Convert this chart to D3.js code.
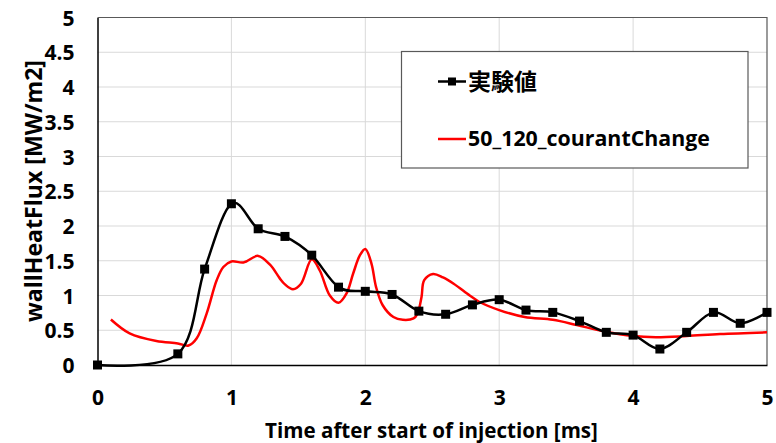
<!DOCTYPE html>
<html>
<head>
<meta charset="utf-8">
<script src="https://cdn.jsdelivr.net/npm/d3@7"></script>
<style>
  html, body { margin: 0; padding: 0; background: #fff; }
  svg { display: block; }
  text { font-family: "Open Sans", Lato, sans-serif; font-weight: bold; fill: #000; }
</style>
</head>
<body>
<svg id="chart" width="776" height="443"></svg>
<script>
// ---- data ----
const expTime = [0, 0.6, 0.8, 1.0, 1.2, 1.4, 1.6, 1.8, 2.0, 2.2, 2.4, 2.6, 2.8, 3.0, 3.2, 3.4, 3.6, 3.8, 4.0, 4.2, 4.4, 4.6, 4.8, 5.0];
const expFlux = [0, 0.16, 1.38, 2.32, 1.96, 1.85, 1.58, 1.12, 1.06, 1.015, 0.775, 0.73, 0.865, 0.94, 0.79, 0.757, 0.632, 0.47, 0.43, 0.23, 0.47, 0.757, 0.6, 0.757];

const simTime = [0.1, 0.24, 0.44, 0.6, 0.68, 0.74, 0.815, 0.89, 0.94, 1.0, 1.09, 1.2, 1.29, 1.36, 1.4, 1.46, 1.52, 1.6, 1.66, 1.735, 1.8, 1.86, 1.91, 1.96, 2.0, 2.046, 2.08, 2.13, 2.21, 2.28, 2.36, 2.39, 2.42, 2.44, 2.506, 2.58, 2.66, 2.78, 2.85, 3.0, 3.19, 3.4, 3.58, 3.77, 4.0, 4.17, 4.4, 4.65, 5.0];
const simFlux = [0.655, 0.455, 0.345, 0.31, 0.28, 0.38, 0.74, 1.22, 1.41, 1.49, 1.475, 1.57, 1.44, 1.25, 1.16, 1.09, 1.17, 1.52, 1.36, 1.0, 0.895, 1.03, 1.32, 1.58, 1.67, 1.46, 1.125, 0.86, 0.69, 0.65, 0.67, 0.74, 0.98, 1.22, 1.31, 1.26, 1.17, 1.0, 0.91, 0.79, 0.69, 0.65, 0.575, 0.49, 0.417, 0.40, 0.417, 0.445, 0.47];

const xTicks = [0, 1, 2, 3, 4, 5];
const yTicks = [0, 0.5, 1, 1.5, 2, 2.5, 3, 3.5, 4, 4.5, 5];
const seriesNames = ["実験値", "50_120_courantChange"];
const xTitle = "Time after start of injection [ms]";
const yTitle = "wallHeatFlux [MW/m2]";

// ---- layout ----
const svg = d3.select("#chart");
const plot = { left: 97.5, right: 767, top: 17.5, bottom: 365 };
const x = d3.scaleLinear().domain([0, 5]).range([plot.left, plot.right]);
const y = d3.scaleLinear().domain([0, 5]).range([plot.bottom, plot.top]);

function fitWidth(sel, target) {
  const node = sel.node();
  const fs = parseFloat(sel.style("font-size"));
  const w = node.getComputedTextLength();
  if (w > 0) sel.style("font-size", (fs * target / w).toFixed(2) + "px");
}

// gridlines
svg.append("g").selectAll("line").data(yTicks.filter(d => d > 0 && d < 5)).join("line")
  .attr("x1", plot.left).attr("x2", plot.right)
  .attr("y1", d => y(d)).attr("y2", d => y(d))
  .attr("stroke", "#d9d9d9").attr("stroke-width", 1);
svg.append("g").selectAll("line").data(xTicks.filter(d => d > 0 && d < 5)).join("line")
  .attr("y1", plot.top).attr("y2", plot.bottom)
  .attr("x1", d => x(d)).attr("x2", d => x(d))
  .attr("stroke", "#d9d9d9").attr("stroke-width", 1);

// plot border (top/right)
svg.append("path")
  .attr("d", `M${plot.left},${plot.top}H${plot.right}V${plot.bottom}`)
  .attr("fill", "none").attr("stroke", "#595959").attr("stroke-width", 1.2);

// axes
const tickFont = "21px";
const xAxis = svg.append("g").attr("transform", `translate(0,${plot.bottom})`)
  .call(d3.axisBottom(x).tickValues(xTicks).tickSize(0).tickPadding(0).tickFormat(d3.format("d")));
xAxis.select(".domain").attr("stroke", "#000").attr("stroke-width", 1.5);
xAxis.selectAll("text").attr("dy", null).attr("y", 40);

const yAxis = svg.append("g").attr("transform", `translate(${plot.left},0)`)
  .call(d3.axisLeft(y).tickValues(yTicks).tickSize(0).tickPadding(0).tickFormat(d => String(d)));
yAxis.select(".domain").attr("stroke", "#000").attr("stroke-width", 1.5);
yAxis.selectAll("text").attr("dy", null).attr("x", -23).attr("y", 7.5)
  .attr("text-anchor", "end");
svg.selectAll(".tick text").attr("font-family", null).attr("font-size", null).style("font-size", tickFont);

// axis titles
const xt = svg.append("text").attr("x", 431.5).attr("y", 438)
  .attr("text-anchor", "middle").style("font-size", "20px").text(xTitle);
fitWidth(xt, 333);
const yt = svg.append("text").attr("transform", `translate(42,191) rotate(-90)`)
  .attr("text-anchor", "middle").style("font-size", "20px").text(yTitle);
fitWidth(yt, 262);

// series
const simData = simTime.map((t, i) => [t, simFlux[i]]);
const expData = expTime.map((t, i) => [t, expFlux[i]]);

svg.append("path").datum(simData)
  .attr("d", d3.line().x(d => x(d[0])).y(d => y(d[1])).curve(d3.curveCatmullRom.alpha(0.5)))
  .attr("fill", "none").attr("stroke", "#ff0000").attr("stroke-width", 2.5)
  .attr("stroke-linejoin", "round");

svg.append("path").datum(expData)
  .attr("d", d3.line().x(d => x(d[0])).y(d => y(d[1])).curve(d3.curveCardinal.tension(0)))
  .attr("fill", "none").attr("stroke", "#000").attr("stroke-width", 2.5)
  .attr("stroke-linejoin", "round");

const ms = 9;
svg.append("g").selectAll("rect").data(expData).join("rect")
  .attr("x", d => x(d[0]) - ms / 2).attr("y", d => y(d[1]) - ms / 2)
  .attr("width", ms).attr("height", ms).attr("fill", "#000");

// legend
const lg = svg.append("g");
lg.append("rect").attr("x", 401.5).attr("y", 51.5).attr("width", 346.5).attr("height", 116.5)
  .attr("fill", "#fff").attr("stroke", "#595959").attr("stroke-width", 1.2);
const legY = [81.5, 139];
lg.append("line").attr("x1", 438).attr("x2", 466).attr("y1", legY[0]).attr("y2", legY[0])
  .attr("stroke", "#000").attr("stroke-width", 2.5);
lg.append("rect").attr("x", 452 - 4).attr("y", legY[0] - 4).attr("width", 8).attr("height", 8).attr("fill", "#000");
lg.append("line").attr("x1", 438).attr("x2", 466).attr("y1", legY[1]).attr("y2", legY[1])
  .attr("stroke", "#ff0000").attr("stroke-width", 2.5);
lg.append("text").attr("x", 468).attr("y", legY[0] + 8.5)
  .style("font-family", '"Noto Sans CJK JP", sans-serif').style("font-size", "23px").text(seriesNames[0]);
const l2 = lg.append("text").attr("x", 468).attr("y", legY[1] + 7)
  .style("font-size", "19px").text(seriesNames[1]);
fitWidth(l2, 242);
</script>
</body>
</html>
